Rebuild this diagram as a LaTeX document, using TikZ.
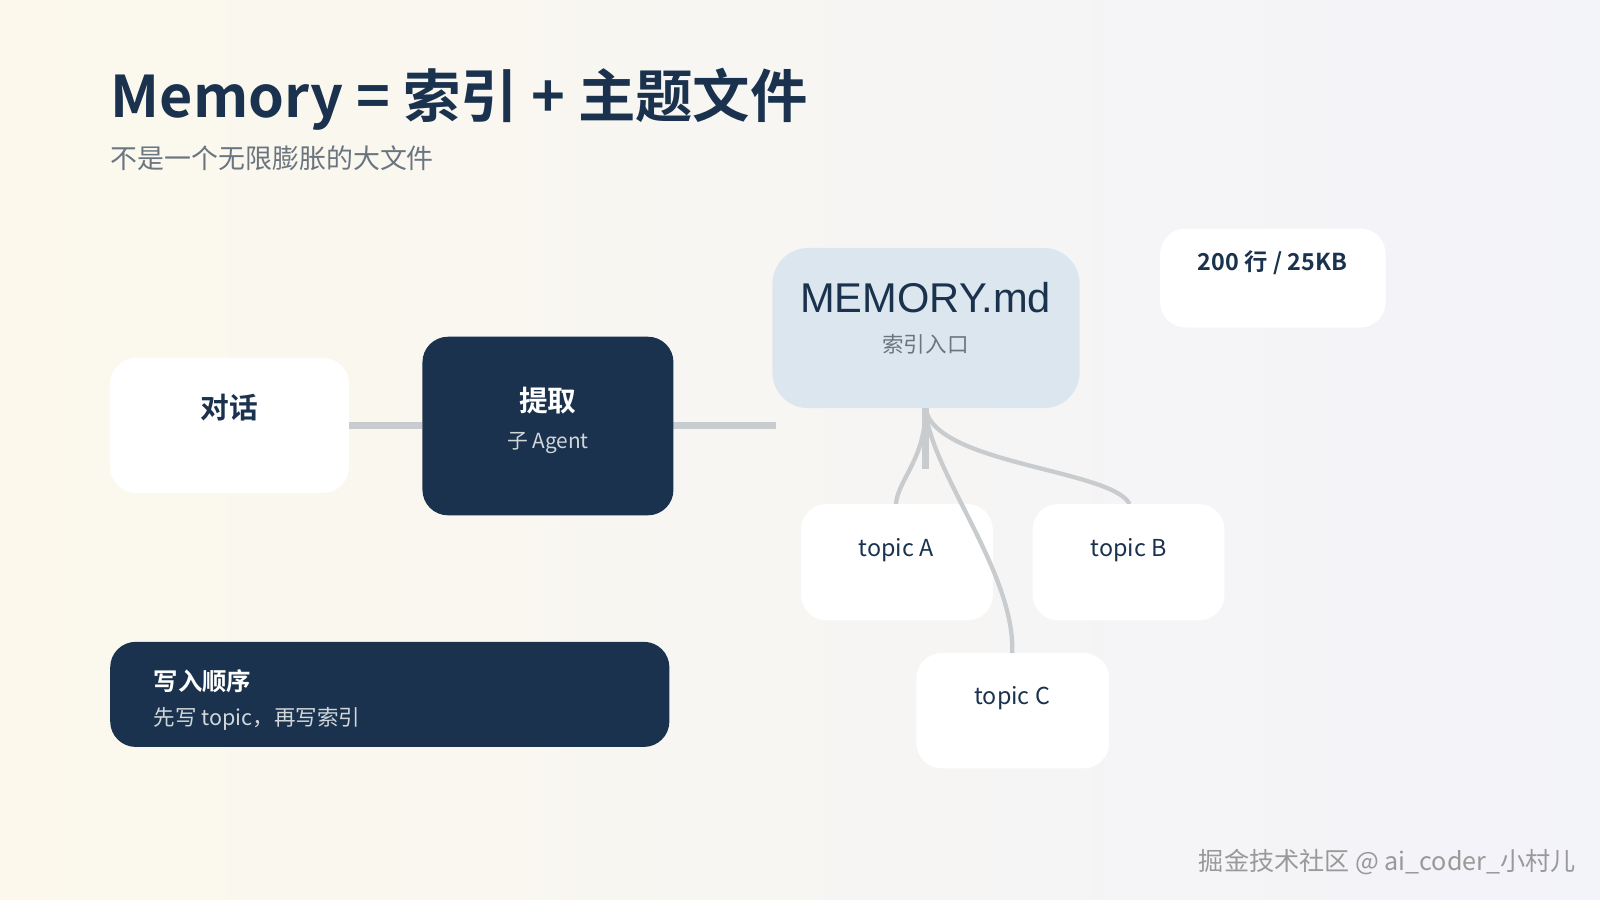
\documentclass[tikz,border=0pt]{standalone}
\usepackage{fontspec}
\setmainfont{Noto Sans CJK SC}
\newfontfamily\cjkb{Noto Sans CJK SC Bold}
\newfontfamily\lib{Liberation Sans}
\definecolor{navy}{HTML}{1A324D}
\definecolor{lblue}{HTML}{DCE6EF}
\definecolor{conn}{HTML}{C9CCCE}
\definecolor{subg}{HTML}{6B7580}
\begin{document}
\begin{tikzpicture}[x=0.01cm,y=-0.01cm,
  card/.style={draw=none,fill=white,rounded corners=0.25cm,inner sep=0},
  dcard/.style={draw=none,fill=navy,rounded corners=0.25cm,inner sep=0},
  ln/.style={draw=conn,line width=1.2pt},
  txt/.style={inner sep=0,anchor=center}]
\useasboundingbox (0,0) rectangle (1568,882);
\shade[left color=yellow!4!white!95!brown, right color=blue!3!white!96!gray] (0,0) rectangle (1568,882);
\node[txt,anchor=west,text=navy,font=\cjkb\fontsize{16}{18}\selectfont] (title) at (108,97) {Memory = 索引 + 主题文件};
\node[txt,anchor=west,text=subg,font=\fontsize{7.5}{9}\selectfont] (sub) at (108,155) {不是一个无限膨胀的大文件};
\coordinate (l1) at (342,417); \coordinate (l2) at (414,417);
\coordinate (l3) at (660,417); \coordinate (l4) at (760,417);
\draw[ln,line width=2pt] (l1)--(l2);
\draw[ln,line width=2pt] (l3)--(l4);
\path[card] (108,351) rectangle (342,483);
\node[txt,font=\cjkb\fontsize{8}{9}\selectfont,text=navy] (dh) at (225,399) {对话};
\path[dcard] (414,330) rectangle (660,505);
\node[txt,font=\cjkb\fontsize{8}{9}\selectfont,text=white] (tq) at (537,393) {提取};
\node[txt,font=\fontsize{5.8}{7}\selectfont,text=white!80!navy] (ag) at (537,434) {子 Agent};
\path[draw=none,fill=lblue,rounded corners=0.35cm] (757,243) rectangle (1058,400);
\node[txt,font=\lib\fontsize{11.6}{14}\selectfont,text=navy] (mem) at (907,292) {MEMORY.md};
\node[txt,font=\fontsize{6}{7}\selectfont,text=subg] (idx) at (907,337) {索引入口};
\path[card] (1137,224) rectangle (1358,321);
\node[txt,font=\cjkb\fontsize{6.5}{8}\selectfont,text=navy] (lim) at (1247,257) {200 行 / 25KB};
\coordinate (root) at (907,400);
\coordinate (ta) at (878,494); \coordinate (tb) at (1107,494); \coordinate (tc) at (992,640);
\draw[ln] (root) .. controls (907,450) and (880,470) .. (ta);
\draw[ln] (root) .. controls (915,455) and (1090,460) .. (tb);
\path[card] (785,494) rectangle (973,608);
\path[card] (1012,494) rectangle (1200,608);
\path[card] (898,640) rectangle (1087,753);
\draw[ln] (root) .. controls (910,460) and (995,560) .. (tc);
\draw[ln,line width=2pt] (root) -- (907,460);
\node[txt,font=\fontsize{6.5}{8}\selectfont,text=navy] (a) at (878,539) {topic A};
\node[txt,font=\fontsize{6.5}{8}\selectfont,text=navy] (b) at (1106,539) {topic B};
\node[txt,font=\fontsize{6.5}{8}\selectfont,text=navy] (c) at (992,684) {topic C};
\path[dcard] (108,629) rectangle (656,732);
\node[txt,anchor=west,font=\cjkb\fontsize{6.8}{8}\selectfont,text=white] (w1) at (150,668) {写入顺序};
\node[txt,anchor=west,font=\fontsize{6}{7}\selectfont,text=white!80!navy] (w2) at (150,705) {先写 topic，再写索引};
\node[txt,anchor=east,font=\fontsize{7}{8}\selectfont,text=gray!80] (wm) at (1545,845) {掘金技术社区 @ ai\_coder\_小村儿};
\end{tikzpicture}
\end{document}
